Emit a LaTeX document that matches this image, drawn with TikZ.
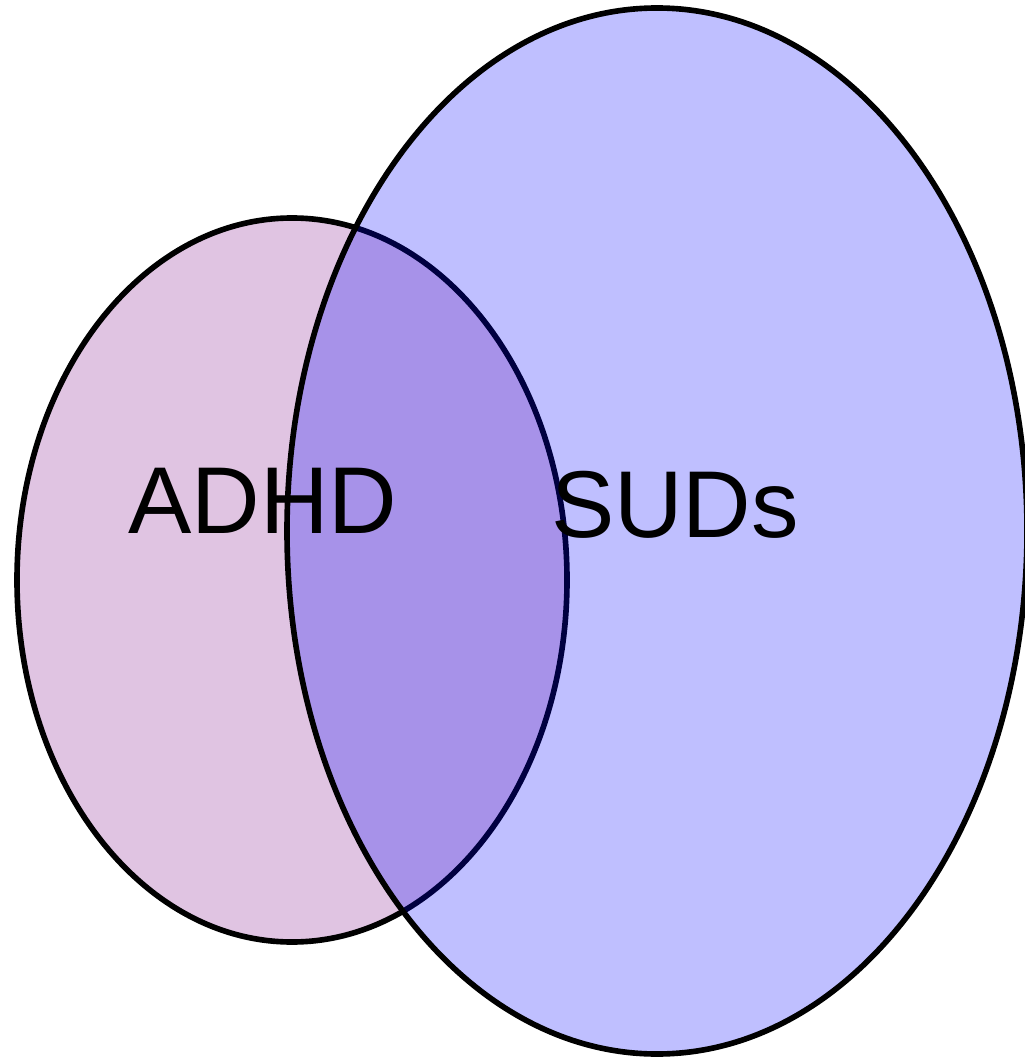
\documentclass[tikz,border=0pt]{standalone}
\usepackage{fontspec}
\setmainfont{Liberation Sans}
\usepackage{xcolor}
\usetikzlibrary{positioning}
\definecolor{adhdfill}{RGB}{224,196,226}
\tikzset{
  setline/.style={line width=1.6pt},
  setlabel/.style={font=\fontsize{27}{32}\selectfont, anchor=base, inner sep=0pt}
}
\begin{document}
\begin{tikzpicture}[x=0.01cm,y=-0.01cm]
  \useasboundingbox (0,0) rectangle (1025,1058);
  % ADHD set
  \draw[setline, fill=adhdfill] (292,580) ellipse [x radius=275, y radius=362];
  % SUDs set, see-through over ADHD
  \draw[setline, fill=blue, fill opacity=0.25] (657,531) ellipse [x radius=370, y radius=523];

  \node[setlabel] (adhd) at (263,533) {ADHD};
  \node[setlabel] (suds) at (675,537) {SUDs};
\end{tikzpicture}
\end{document}
